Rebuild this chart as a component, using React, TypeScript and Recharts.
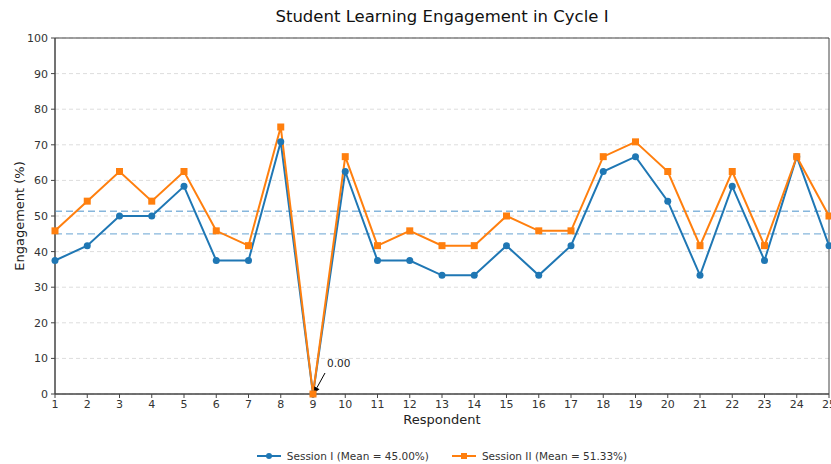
import React from 'react';
import { LineChart, Line, XAxis, YAxis, CartesianGrid, ReferenceLine, ReferenceArea, ReferenceDot, Legend } from 'recharts';

const respondents = [1,2,3,4,5,6,7,8,9,10,11,12,13,14,15,16,17,18,19,20,21,22,23,24,25];
const session1 = [37.5,41.67,50,50,58.33,37.5,37.5,70.83,0,62.5,37.5,37.5,33.33,33.33,41.67,33.33,41.67,62.5,66.67,54.17,33.33,58.33,37.5,66.67,41.67];
const session2 = [45.83,54.17,62.5,54.17,62.5,45.83,41.67,75,0,66.67,41.67,45.83,41.67,41.67,50,45.83,45.83,66.67,70.83,62.5,41.67,62.5,41.67,66.67,50];
const mean1 = 45.0;
const mean2 = 51.33;
const yTicks = [0,10,20,30,40,50,60,70,80,90,100];
const label1 = 'Session I (Mean = 45.00%)';
const label2 = 'Session II (Mean = 51.33%)';
const annotationText = '0.00';
const title = 'Student Learning Engagement in Cycle I';

const data = respondents.map((r, i) => ({ respondent: r, s1: session1[i], s2: session2[i] }));

const BLUE = '#1f77b4';
const ORANGE = '#ff7f0e';
const FONT = 'DejaVu Sans, sans-serif';

const SquareDot = (props: any) => {
  const { cx, cy } = props;
  if (cx == null || cy == null) return null;
  return <rect x={cx - 3.5} y={cy - 3.5} width={7} height={7} fill={ORANGE} />;
};

const CircleDot = (props: any) => {
  const { cx, cy } = props;
  if (cx == null || cy == null) return null;
  return <circle cx={cx} cy={cy} r={3.5} fill={BLUE} />;
};

const Annotation = (props: any) => {
  const { cx, cy } = props;
  if (cx == null || cy == null) return null;
  const x0 = cx + 12, y0 = cy - 21;
  const x1 = cx + 1, y1 = cy - 1;
  const ang = Math.atan2(y1 - y0, x1 - x0);
  const L = 6, W = 3;
  const bx = x1 - L * Math.cos(ang), by = y1 - L * Math.sin(ang);
  const px = -Math.sin(ang) * W, py = Math.cos(ang) * W;
  return (
    <g>
      <line x1={x0} y1={y0} x2={bx} y2={by} stroke="#000" strokeWidth={1} />
      <polygon points={`${x1},${y1} ${bx + px},${by + py} ${bx - px},${by - py}`} fill="#000" />
      <text x={cx + 14} y={cy - 27} fontSize={10.5} fontFamily={FONT} fill="#222">{annotationText}</text>
    </g>
  );
};

const LegendContent = () => (
  <div style={{ display: 'flex', justifyContent: 'center', alignItems: 'center', height: 20, boxSizing: 'border-box', fontFamily: FONT, fontSize: 10.5, color: '#333', paddingLeft: 55, paddingTop: 3 }}>
    <svg width={24} height={10} style={{ marginRight: 6 }}>
      <line x1={0} y1={5} x2={24} y2={5} stroke={BLUE} strokeWidth={2} />
      <circle cx={12} cy={5} r={3} fill={BLUE} />
    </svg>
    <span style={{ marginRight: 23 }}>{label1}</span>
    <svg width={24} height={10} style={{ marginRight: 6 }}>
      <line x1={0} y1={5} x2={24} y2={5} stroke={ORANGE} strokeWidth={2} />
      <rect x={9} y={2} width={6} height={6} fill={ORANGE} />
    </svg>
    <span>{label2}</span>
  </div>
);

export default function App() {
  return (
    <div style={{ position: 'absolute', left: 0, top: 0, width: 831, height: 464, background: '#fff' }}>
      <div style={{ position: 'absolute', left: 55, width: 774, top: 7, textAlign: 'center', fontFamily: FONT, fontSize: 16.5, color: '#111' }}>{title}</div>
      <LineChart width={831} height={464} data={data} margin={{ top: 38, right: 2, bottom: 0, left: 0 }}>
        <CartesianGrid horizontal={true} vertical={false} stroke="#dddddd" strokeDasharray="4 3" />
        <XAxis
          type="number"
          dataKey="respondent"
          domain={[1, 25]}
          ticks={respondents}
          interval={0}
          allowDecimals={false}
          height={50}
          tickSize={4}
          tickMargin={2}
          stroke="#444"
          tick={{ fontSize: 11, fill: '#333', fontFamily: FONT }}
          label={{ value: 'Respondent', position: 'insideTop', offset: 21, fontSize: 13, fill: '#222', fontFamily: FONT }}
        />
        <YAxis
          type="number"
          domain={[0, 100]}
          ticks={yTicks}
          interval={0}
          width={55}
          tickSize={4}
          tickMargin={3}
          stroke="#444"
          tick={{ fontSize: 11, fill: '#333', fontFamily: FONT }}
          label={{ value: 'Engagement (%)', angle: -90, position: 'insideLeft', offset: 19, fontSize: 13, fill: '#222', fontFamily: FONT, style: { textAnchor: 'middle' } }}
        />
        <ReferenceArea x1={1} x2={25} y1={0} y2={100} fill="none" stroke="#444" strokeWidth={1} ifOverflow="visible" />
        <ReferenceLine y={mean1} stroke="#86b6dc" strokeDasharray="7 4" strokeWidth={1.3} />
        <ReferenceLine y={mean2} stroke="#86b6dc" strokeDasharray="7 4" strokeWidth={1.3} />
        <Line type="linear" dataKey="s1" stroke={BLUE} strokeWidth={2} dot={<CircleDot />} activeDot={false} isAnimationActive={false} />
        <Line type="linear" dataKey="s2" stroke={ORANGE} strokeWidth={2} dot={<SquareDot />} activeDot={false} isAnimationActive={false} />
        <ReferenceDot x={9} y={0} r={0} shape={<Annotation />} ifOverflow="visible" />
        <Legend verticalAlign="bottom" content={<LegendContent />} />
      </LineChart>
    </div>
  );
}
